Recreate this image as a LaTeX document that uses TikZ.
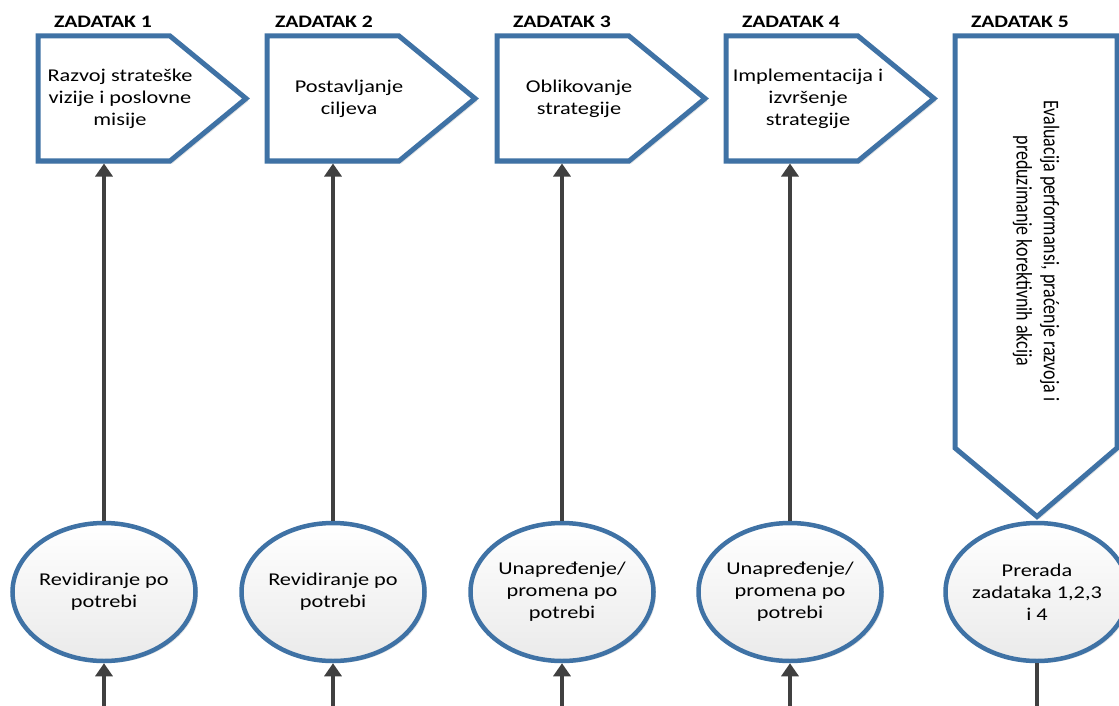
\documentclass[tikz,border=0pt]{standalone}
\usepackage{fontspec}
\setmainfont{Carlito}[FakeStretch=1.24]
\newfontfamily\uprightfont{Carlito}
\usetikzlibrary{shapes.geometric,arrows.meta,shadows}
\definecolor{taskblue}{HTML}{3F72A5}
\definecolor{flowgray}{HTML}{404040}
\definecolor{ovalbot}{HTML}{EAEAEA}
\tikzset{
  taskbox/.style={draw=taskblue, line width=5pt, fill=white, line join=miter,
    drop shadow={shadow xshift=2.5pt, shadow yshift=-2.5pt, fill=black, opacity=0.10}},
  oval/.style={ellipse, draw=taskblue, line width=4.5pt, minimum width=183pt,
    minimum height=138pt, inner sep=0pt, top color=white, bottom color=ovalbot,
    drop shadow={shadow xshift=2.5pt, shadow yshift=-2pt, fill=black, opacity=0.10}},
  header/.style={font=\fontsize{17.5}{20}\selectfont\bfseries, inner sep=0pt},
  body/.style={font=\fontsize{18}{22}\selectfont, align=center, inner sep=0pt},
  flow/.style={draw=flowgray, line width=4.5pt, -{Triangle[width=17pt,length=13pt]}},
  link/.style={draw=flowgray, line width=4.5pt},
}
\begin{document}
\begin{tikzpicture}[x=1pt, y=-1pt]
\useasboundingbox (0,0) rectangle (1119,706);
\fill[white] (0,0) rectangle (1119,706);
\clip (0,0) rectangle (1119,706);

% task pentagons 1-4, their ovals and feed-back arrows
\foreach \k/\L/\C in {1/38/104, 2/267/333, 3/497/562, 4/726/790} {
  \draw[taskbox] (\L,36) -- (\L+132,36) -- (\L+208,98.5) -- (\L+132,161)
    -- (\L,161) -- cycle;
  \coordinate (p\k) at (\C,163.5);
  \coordinate (b\k) at (\C,712);
  \node[oval] (e\k) at (\C,592) {};
}

% task 5: downward pointing box
\draw[taskbox] (955,36) -- (1117,36) -- (1117,448) -- (1037,516.5) -- (955,448) -- cycle;
\node[oval] (e5) at (1037,592) {};
\coordinate (b5) at (1037,712);

% headers
\node[header] (h1) at (103,22) {ZADATAK 1};
\node[header] (h2) at (324,22) {ZADATAK 2};
\node[header] (h3) at (562,22) {ZADATAK 3};
\node[header] (h4) at (791,22) {ZADATAK 4};
\node[header] (h5) at (1020,22) {ZADATAK 5};

% task texts
\node[body] (t1) at (120,99) {Razvoj strateške\\vizije i poslovne\\misije};
\node[body] (t2) at (349,99) {Postavljanje\\ciljeva};
\node[body] (t3) at (579,99) {Oblikovanje\\strategije};
\node[body] (t4) at (808,99) {Implementacija i\\izvršenje\\strategije};
\node[body, font=\uprightfont\fontsize{18}{22}\selectfont, xscale=1.24, rotate=-90]
  (t5) at (1036,251) {Evaluacija performansi, praćenje razvoja i\\preduzimanje korektivnih akcija};

% oval texts
\node[body] (o1) at (e1) {Revidiranje po\\potrebi};
\node[body] (o2) at (e2) {Revidiranje po\\potrebi};
\node[body] (o3) at (e3) {Unapređenje/\\promena po\\potrebi};
\node[body] (o4) at (e4) {Unapređenje/\\promena po\\potrebi};
\node[body] (o5) at (e5) {Prerada\\zadataka 1,2,3\\i 4};

% connectors
\foreach \k in {1,2,3,4} {
  \draw[flow] (e\k.north) -- (p\k);
  \draw[flow] (b\k) -- (e\k.south);
}
\draw[link] (e5.south) -- (b5);
\end{tikzpicture}
\end{document}
